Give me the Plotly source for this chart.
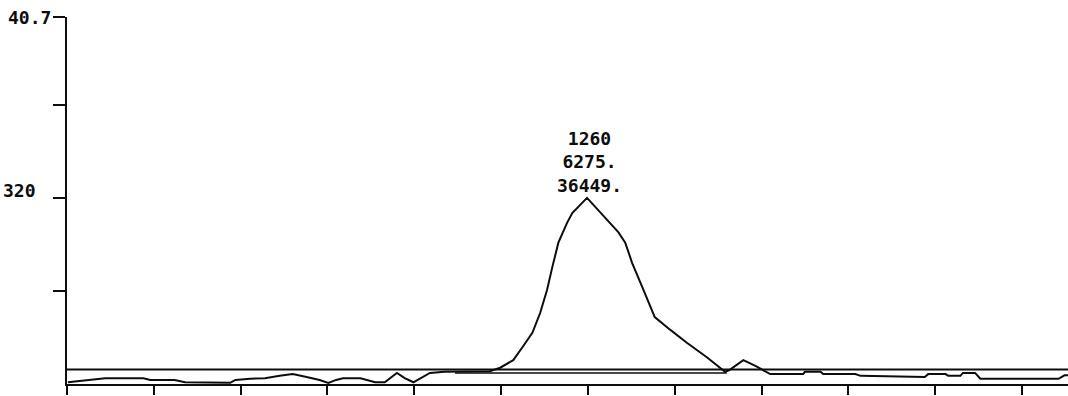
import plotly.graph_objects as go

# Detector trace: retention time (min) and signal response
time_min = [0.01, 0.15, 0.30, 0.44, 0.88, 0.96, 1.24, 1.36, 1.88, 1.94,
            2.11, 2.28, 2.45, 2.60, 2.76, 2.91, 3.01, 3.10, 3.18, 3.38,
            3.55, 3.66, 3.80, 3.89, 3.99, 4.07, 4.18, 4.35, 4.64, 4.87,
            4.99, 5.14, 5.25, 5.36, 5.45, 5.53, 5.59, 5.66, 5.76, 5.82,
            5.99, 6.18, 6.35, 6.43, 6.51, 6.64, 6.77, 6.95, 7.14, 7.37,
            7.58, 7.63, 7.79, 7.93, 8.06, 8.10, 8.48, 8.50, 8.68, 8.71,
            9.08, 9.14, 9.88, 9.92, 10.12, 10.15, 10.29, 10.32, 10.46, 10.52,
            11.42, 11.49, 11.53]
signal = [3, 5, 7, 10, 10, 7, 7, 3, 2, 7,
          9, 10, 14, 17, 12, 7, 2, 7, 10, 10,
          3, 3, 19, 10, 3, 10, 19, 21, 22, 22,
          28, 41, 64, 88, 122, 162, 201, 243, 277, 294,
          320, 289, 261, 243, 208, 162, 115, 93, 71, 46,
          21, 24, 41, 31, 21, 17, 17, 21, 21, 17,
          17, 14, 12, 17, 17, 14, 14, 19, 19, 9,
          9, 15, 15]

# Reference baseline over the full run and integration baseline under the peak
run_start, run_end = 0.0, 11.53
run_baseline = 25
peak_start, peak_end = 4.47, 7.60
peak_baseline = 19

# Integrator report for the peak
peak_time = 5.99
peak_height = 320
peak_report = ["1260", "6275.", "36449."]

# Axis scale labels
y_max = 631
y_ticks = [160, 320, 480, y_max]
y_label_mid = "320"
y_label_top = "40.7"
x_ticks = list(range(0, 12))

mono = "DejaVu Sans Mono"
ink = "#0d0d0d"
text_font = dict(family=mono, size=18, color=ink, weight="bold")

fig = go.Figure()
fig.add_trace(go.Scatter(x=[run_start, run_end], y=[run_baseline, run_baseline],
                         mode="lines", line=dict(color=ink, width=1.9),
                         hoverinfo="skip"))
fig.add_trace(go.Scatter(x=[peak_start, peak_end], y=[peak_baseline, peak_baseline],
                         mode="lines", line=dict(color=ink, width=1.4),
                         hoverinfo="skip"))
fig.add_trace(go.Scatter(x=time_min, y=signal, mode="lines",
                         line=dict(color=ink, width=2)))

fig.add_annotation(x=peak_time, y=peak_height, xref="x", yref="y",
                   text="<br>".join(peak_report), showarrow=False,
                   xanchor="center", yanchor="bottom", align="center",
                   xshift=2, font=text_font)
fig.add_annotation(x=0, y=y_max, xref="paper", yref="y", text=y_label_top,
                   showarrow=False, xanchor="right", yanchor="middle",
                   xshift=-14, font=text_font)
fig.add_annotation(x=0, y=320, xref="paper", yref="y", text=y_label_mid,
                   showarrow=False, xanchor="right", yanchor="bottom",
                   xshift=-29, yshift=-5, font=text_font)

fig.update_layout(
    width=1068, height=396,
    margin=dict(l=67, r=0, t=17, b=12),
    paper_bgcolor="white", plot_bgcolor="white",
    showlegend=False,
    xaxis=dict(range=[run_start, run_end], tickvals=x_ticks, showticklabels=False,
               ticks="outside", ticklen=9, tickwidth=1.8, tickcolor=ink,
               showline=True, linecolor=ink, linewidth=1.9,
               showgrid=False, zeroline=False),
    yaxis=dict(range=[0, y_max], tickvals=y_ticks, showticklabels=False,
               ticks="outside", ticklen=12, tickwidth=1.8, tickcolor=ink,
               showline=True, linecolor=ink, linewidth=1.9,
               showgrid=False, zeroline=False),
)

fig.write_html("out.html")
